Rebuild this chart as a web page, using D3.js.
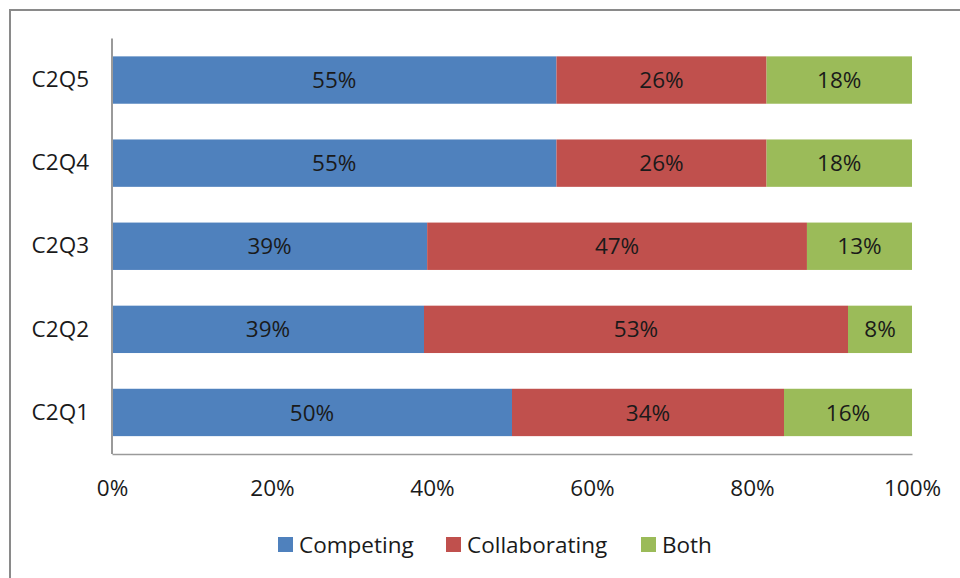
<!DOCTYPE html>
<html>
<head>
<meta charset="utf-8">
<script src="https://cdn.jsdelivr.net/npm/d3@7/dist/d3.min.js"></script>
<style>
  html, body { margin: 0; padding: 0; background: #fff; }
  svg { display: block; font-family: "Open Sans", "Liberation Sans", Arial, sans-serif; }
</style>
</head>
<body>
<svg id="chart" width="960" height="578"></svg>
<script>
// Survey questions, drawn top to bottom
const categories = ["C2Q5", "C2Q4", "C2Q3", "C2Q2", "C2Q1"];
const seriesNames = ["Competing", "Collaborating", "Both"];
const competing     = [55, 55, 39, 39, 50];
const collaborating = [26, 26, 47, 53, 34];
const both          = [18, 18, 13, 8, 16];
const tickValues = [0, 0.2, 0.4, 0.6, 0.8, 1];
const colors = ["#4F81BD", "#C0504D", "#9BBB59"];

const FONT = "'Open Sans', 'Liberation Sans', Arial, sans-serif";
const FONT_SIZE = 22.5;
const TEXT_COLOR = "#1a1a1a";

const rows = categories.map((c, i) => ({
  category: c,
  Competing: competing[i],
  Collaborating: collaborating[i],
  Both: both[i]
}));

const svg = d3.select("#chart");

// outer frame (left and top edges visible)
svg.append("path")
  .attr("d", "M10,578 L10,10 L960,10")
  .attr("fill", "none")
  .attr("stroke", "#8a8a8a")
  .attr("stroke-width", 2);

const plot = { left: 112, right: 912, top: 38.5, bottom: 454 };

const x = d3.scaleLinear().domain([0, 1]).range([plot.left, plot.right]);
const y = d3.scaleBand().domain(categories).range([plot.top, plot.bottom]).paddingInner(0.43).paddingOuter(0.215);

// 100% stacked layout
const stack = d3.stack().keys(seriesNames).offset(d3.stackOffsetExpand);
const layers = stack(rows);

const g = svg.append("g");
layers.forEach((layer, li) => {
  const lg = g.append("g");
  lg.selectAll("rect")
    .data(layer)
    .join("rect")
    .attr("x", d => x(d[0]))
    .attr("y", d => y(d.data.category))
    .attr("width", d => x(d[1]) - x(d[0]))
    .attr("height", y.bandwidth())
    .attr("fill", colors[li]);
  lg.selectAll("text")
    .data(layer)
    .join("text")
    .attr("x", d => (x(d[0]) + x(d[1])) / 2)
    .attr("y", d => y(d.data.category) + y.bandwidth() / 2)
    .attr("dy", "0.36em")
    .attr("text-anchor", "middle")
    .attr("font-size", FONT_SIZE)
    .attr("fill", TEXT_COLOR)
    .text(d => d.data[layer.key] + "%");
});

// axis lines
svg.append("line")
  .attr("x1", plot.left).attr("x2", plot.left)
  .attr("y1", plot.top).attr("y2", plot.bottom)
  .attr("stroke", "#9a9a9a").attr("stroke-width", 2);

const xAxis = d3.axisBottom(x).tickValues(tickValues).tickFormat(d3.format(".0%")).tickSize(0).tickPadding(26);
const xg = svg.append("g").attr("transform", `translate(0,${plot.bottom})`).call(xAxis);
xg.select(".domain").attr("stroke", "#9a9a9a").attr("stroke-width", 1.5);
xg.selectAll("text").attr("font-size", FONT_SIZE).attr("fill", TEXT_COLOR).attr("font-family", FONT);

const yAxis = d3.axisLeft(y).tickSize(0).tickPadding(23);
const yg = svg.append("g").attr("transform", `translate(${plot.left},0)`).call(yAxis);
yg.select(".domain").remove();
yg.selectAll("text").attr("font-size", FONT_SIZE).attr("fill", TEXT_COLOR).attr("font-family", FONT);

// legend
const legendX = [278, 446, 641];
const legend = svg.append("g");
seriesNames.forEach((name, i) => {
  legend.append("rect")
    .attr("x", legendX[i]).attr("y", 537)
    .attr("width", 15).attr("height", 15)
    .attr("fill", colors[i]);
  legend.append("text")
    .attr("x", legendX[i] + 21).attr("y", 545)
    .attr("dy", "0.36em")
    .attr("font-size", FONT_SIZE)
    .attr("fill", TEXT_COLOR)
    .text(name);
});
</script>
</body>
</html>
